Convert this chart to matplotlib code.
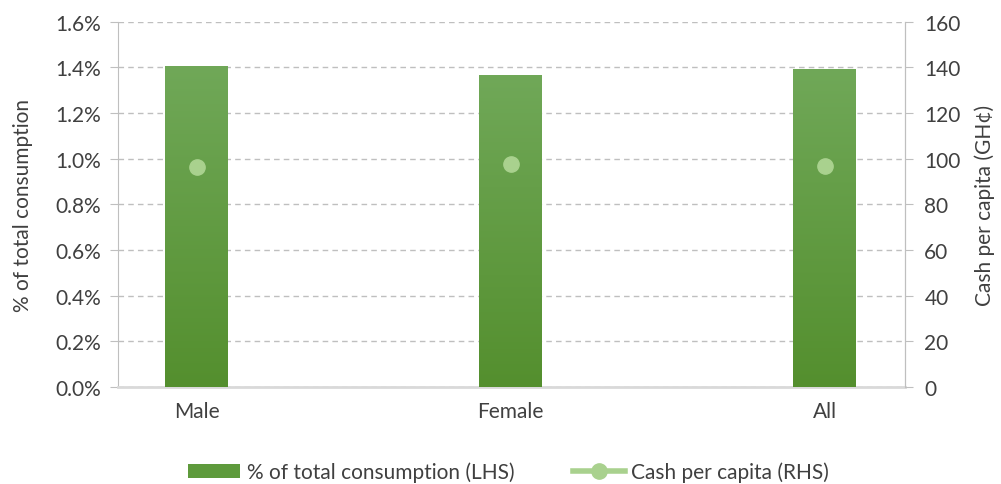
import numpy as np
import matplotlib.pyplot as plt
from matplotlib.lines import Line2D
from matplotlib.patches import Patch
from matplotlib.colors import LinearSegmentedColormap

plt.rcParams["font.family"] = ["Lato", "DejaVu Sans"]

groups = ["Male", "Female", "All"]
share_pct = [1.407, 1.365, 1.395]      # % of total consumption (LHS)
cash_pc = [96.5, 97.8, 96.8]           # Cash per capita, GH¢ (RHS)

txt = "#404040"
grid_c = "#bfbfbf"
bar_top = "#70a858"
bar_bot = "#548f2e"
dot_c = "#a9d18e"
fs = 15

fig, ax = plt.subplots(figsize = (10.01, 4.85), dpi = 100)
fig.subplots_adjust(left = 0.118, right = 0.904, top = 0.953, bottom = 0.2)

x = np.arange(len(groups))
bars = ax.bar(x, share_pct, width = 0.2, color = bar_bot, zorder = 3)

# vertical gradient on each bar
cmap = LinearSegmentedColormap.from_list("g", [bar_bot, bar_top])
grad = np.linspace(0, 1, 256).reshape(-1, 1)
for b in bars:
    x0, y0, w, h = b.get_x(), b.get_y(), b.get_width(), b.get_height()
    im = ax.imshow(grad, cmap = cmap, origin = "lower", aspect = "auto",
                   extent = [x0, x0 + w, y0, y0 + h], zorder = 3)
    im.set_clip_path(b)

ax.set_xlim(-0.25, 2.255)
ax.set_ylim(0, 1.6)
ax.set_yticks(np.arange(0, 1.61, 0.2))
ax.set_yticklabels(["%.1f%%" % v for v in np.arange(0, 1.61, 0.2)])
ax.set_xticks(x)
ax.set_xticklabels(groups)
ax.yaxis.grid(True, ls = (0, (4, 3)), color = grid_c, lw = 1)
ax.set_axisbelow(True)
ax.set_ylabel("% of total consumption", fontsize = fs, color = txt, labelpad = 16)

ax.spines["top"].set_visible(False)
ax.spines["left"].set_color(grid_c)
ax.spines["right"].set_color(grid_c)
ax.spines["bottom"].set_color("#d9d9d9")
ax.spines["bottom"].set_linewidth(2)
ax.tick_params(axis = "y", colors = grid_c, labelcolor = txt, labelsize = fs, length = 6, pad = 6)
ax.tick_params(axis = "x", length = 0, labelcolor = txt, labelsize = fs, pad = 10)

ax2 = ax.twinx()
ax2.plot(x, cash_pc, ls = "none", marker = "o", ms = 11, color = dot_c, zorder = 5)
ax2.set_ylim(0, 160)
ax2.set_yticks(np.arange(0, 161, 20))
ax2.set_ylabel("Cash per capita (GH¢)", fontsize = fs, color = txt, labelpad = 10)
for s in ["top", "left", "bottom"]:
    ax2.spines[s].set_visible(False)
ax2.spines["right"].set_color(grid_c)
ax2.tick_params(axis = "y", colors = grid_c, labelcolor = txt, labelsize = fs, length = 6, pad = 8)

handles = [Patch(facecolor = "#5e9a3c", edgecolor = "none"),
           Line2D([0], [0], color = dot_c, lw = 4, marker = "o", ms = 11)]
fig.legend(handles, ["% of total consumption (LHS)", "Cash per capita (RHS)"],
           loc = "lower center", bbox_to_anchor = (0.508, -0.035), ncol = 2, frameon = False,
           fontsize = fs, labelcolor = txt, handlelength = 2.5, handletextpad = 0.3,
           columnspacing = 2.8)

fig.savefig("out.png", dpi = 100)
